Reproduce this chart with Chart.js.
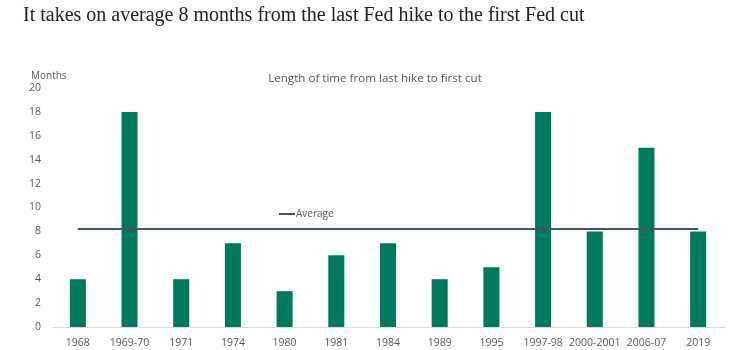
<!DOCTYPE html>
<html>
<head>
<meta charset="utf-8">
<script src="https://cdn.jsdelivr.net/npm/chart.js@4/dist/chart.umd.min.js"></script>
<style>
  html, body { margin: 0; padding: 0; background: #fff; }
  #wrap { width: 749px; height: 350px; position: relative; }
</style>
</head>
<body>
<div id="wrap"><canvas id="chart" width="749" height="350"></canvas></div>
<script>
// Data
const periods = ['1968', '1969-70', '1971', '1974', '1980', '1981', '1984', '1989', '1995', '1997-98', '2000-2001', '2006-07', '2019'];
const monthsToCut = [4, 18, 4, 7, 3, 6, 7, 4, 5, 18, 8, 15, 8];
const averageMonths = [8.2, 8.2, 8.2, 8.2, 8.2, 8.2, 8.2, 8.2, 8.2, 8.2, 8.2, 8.2, 8.2];

const pageTitle = 'It takes on average 8 months from the last Fed hike to the first Fed cut';
const chartTitle = 'Length of time from last hike to first cut';
const axisUnit = 'Months';
const legendLabel = 'Average';

const BAR_GREEN = '#007a5e';
const LINE_SLATE = '#44546a';
const TEXT_GREY = '#595959';
const UI_FONT = '"Open Sans", "Noto Sans", sans-serif';

/**
 * Draws the headline, chart title, unit label and the small legend
 */
const textPlugin = {
    id: 'textPlugin',
    afterDraw(chart) {
        const ctx = chart.ctx;
        ctx.save();

        // Headline, serif, fitted to the reference width
        let size = 20;
        ctx.font = size + 'px "Liberation Serif", "DejaVu Serif", serif';
        const w = ctx.measureText(pageTitle).width;
        size = size * 562 / w;
        ctx.font = size + 'px "Liberation Serif", "DejaVu Serif", serif';
        ctx.fillStyle = '#222222';
        ctx.textBaseline = 'alphabetic';
        ctx.textAlign = 'left';
        ctx.fillText(pageTitle, 23, 21);

        // Chart title
        ctx.font = '11.6px ' + UI_FONT;
        ctx.fillStyle = TEXT_GREY;
        ctx.textAlign = 'center';
        ctx.textBaseline = 'middle';
        ctx.fillText(chartTitle, 375, 79);

        // Unit label above the y axis
        ctx.font = '10px ' + UI_FONT;
        ctx.textAlign = 'left';
        ctx.fillText(axisUnit, 31, 76);

        // Legend entry
        ctx.strokeStyle = LINE_SLATE;
        ctx.lineWidth = 2;
        ctx.beginPath();
        ctx.moveTo(279, 214);
        ctx.lineTo(295, 214);
        ctx.stroke();
        ctx.font = '10px ' + UI_FONT;
        ctx.fillText(legendLabel, 296, 214);

        ctx.restore();
    }
};

const ctx = document.getElementById('chart').getContext('2d');
new Chart(ctx, {
    type: 'bar',
    data: {
        labels: periods,
        datasets: [
            {
                type: 'line',
                label: legendLabel,
                data: averageMonths,
                borderColor: LINE_SLATE,
                borderWidth: 2.2,
                pointRadius: 0,
                fill: false,
                order: 0,
            },
            {
                type: 'bar',
                label: 'Months',
                data: monthsToCut,
                backgroundColor: BAR_GREEN,
                categoryPercentage: 1,
                barPercentage: 0.31,
                order: 1,
            },
        ]
    },
    options: {
        responsive: false,
        animation: false,
        layout: {
            padding: { top: 88, right: 25, bottom: 0, left: 0 }
        },
        plugins: {
            legend: { display: false },
            tooltip: { enabled: false },
        },
        scales: {
            x: {
                grid: { display: false, drawTicks: false },
                border: { display: true, color: '#d9d9d9', width: 1 },
                ticks: {
                    color: TEXT_GREY,
                    font: { family: UI_FONT, size: 10.5 },
                    padding: 10,
                    maxRotation: 0,
                    autoSkip: false,
                },
                afterFit(scale) { scale.height = 23; },
            },
            y: {
                min: 0,
                max: 20,
                grid: { display: false, drawTicks: false },
                border: { display: false },
                ticks: {
                    stepSize: 2,
                    color: TEXT_GREY,
                    font: { family: UI_FONT, size: 10.5 },
                    padding: 11,
                },
                afterFit(scale) { scale.width = 52; },
            }
        }
    },
    plugins: [textPlugin]
});
</script>
</body>
</html>
